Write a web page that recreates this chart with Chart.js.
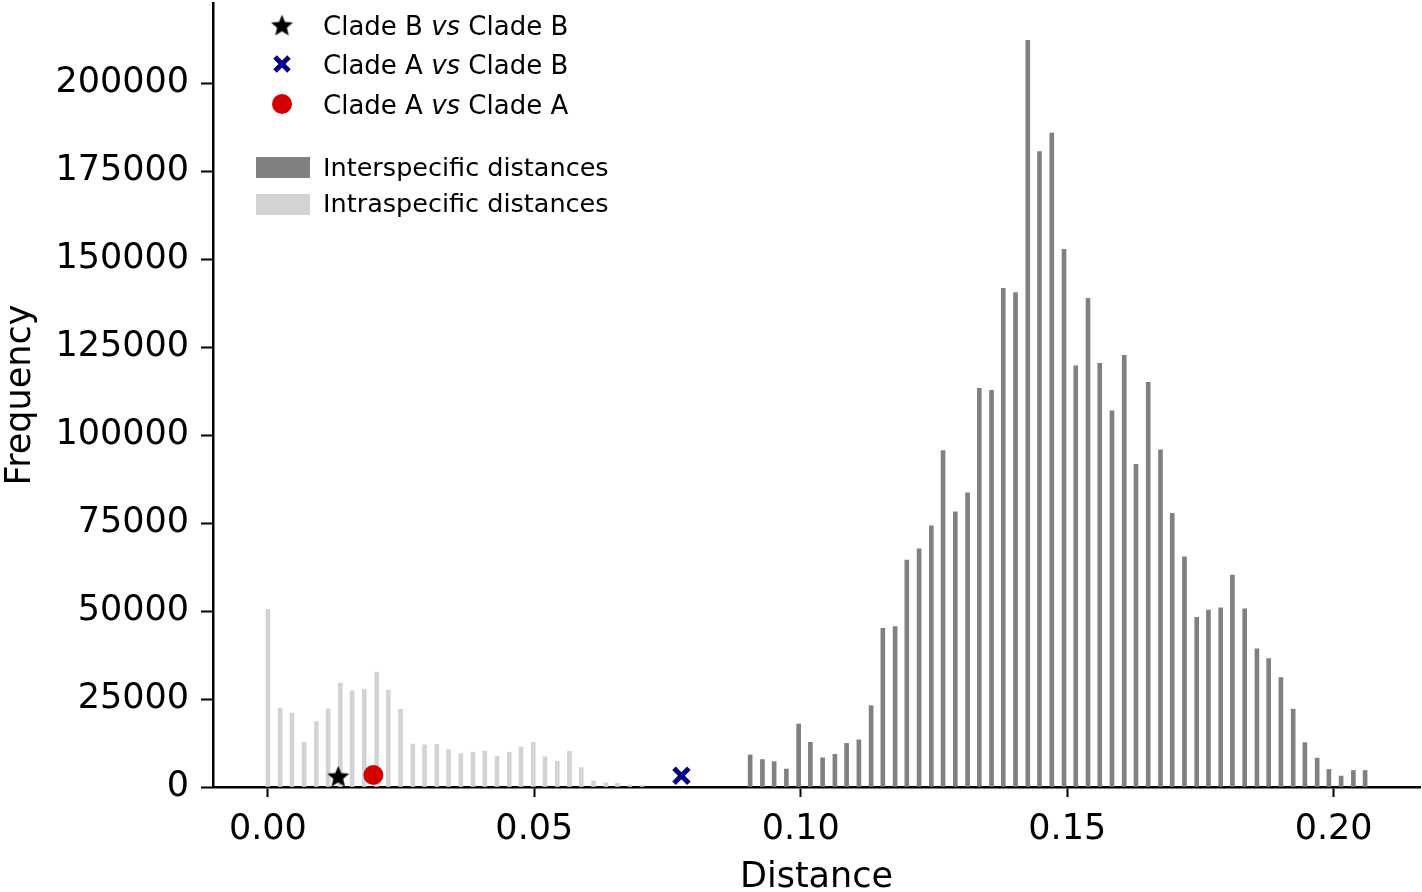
<!DOCTYPE html>
<html>
<head>
<meta charset="utf-8">
<script src="https://cdn.jsdelivr.net/npm/chart.js@4.4.1/dist/chart.umd.min.js"></script>
<style>
  html, body { margin: 0; padding: 0; background: #fff; }
  canvas { display: block; }
</style>
</head>
<body>
<canvas id="histChart" width="1422" height="892"></canvas>
<script>
// Intraspecific distance bins (bar positions) and their counts
const intraDistances = [0.0000, 0.0023, 0.0045, 0.0068, 0.0091, 0.0113, 0.0136, 0.0158,
    0.0181, 0.0204, 0.0226, 0.0249, 0.0272, 0.0294, 0.0317, 0.0339,
    0.0362, 0.0385, 0.0407, 0.0430, 0.0453, 0.0475, 0.0498, 0.0520,
    0.0543, 0.0566, 0.0588, 0.0611, 0.0634, 0.0656, 0.0679, 0.0702];
const intraCounts = [50500, 22400, 21000, 12700, 18600, 22200, 29500, 27300,
    27800, 32600, 27500, 22100, 12200, 12000, 12100, 10600,
    9500, 9900, 10200, 8700, 9900, 11400, 12700, 8600,
    7300, 10100, 5500, 1700, 1200, 1000, 600, 500];

// Interspecific distance bins and their counts
const interDistances = [0.0905, 0.0928, 0.0950, 0.0973, 0.0996, 0.1018, 0.1041, 0.1064,
    0.1086, 0.1109, 0.1132, 0.1154, 0.1177, 0.1199, 0.1222, 0.1245,
    0.1267, 0.1290, 0.1313, 0.1335, 0.1358, 0.1380, 0.1403, 0.1426,
    0.1448, 0.1471, 0.1494, 0.1516, 0.1539, 0.1561, 0.1584, 0.1607,
    0.1629, 0.1652, 0.1675, 0.1697, 0.1720, 0.1743, 0.1765, 0.1788,
    0.1810, 0.1833, 0.1856, 0.1878, 0.1901, 0.1924, 0.1946, 0.1969,
    0.1991, 0.2014, 0.2037, 0.2059];
const interCounts = [9100, 7800, 7200, 5100, 17900, 12700, 8300, 9300,
    12400, 13400, 23100, 45100, 45600, 64500, 67700, 74200,
    95600, 78200, 83600, 113300, 112700, 141700, 140500, 212200,
    180600, 185800, 152800, 119700, 138900, 120400, 106900, 122700,
    91700, 115000, 95800, 77800, 65400, 48200, 50300, 50900,
    60200, 50600, 39300, 36500, 31100, 22100, 12600, 8200,
    5000, 3100, 4700, 4700];

// Clade comparison markers
const cladeBBDistance = [0.0132];
const cladeBBHeight = [3100];
const cladeABDistance = [0.0776];
const cladeABHeight = [3200];
const cladeAADistance = [0.0198];
const cladeAAHeight = [3400];

// Tick values and labels
const xTickValues = [0, 0.05, 0.10, 0.15, 0.20];
const xTickLabels = ['0.00', '0.05', '0.10', '0.15', '0.20'];
const yTickValues = [0, 25000, 50000, 75000, 100000, 125000, 150000, 175000, 200000];
const yTickLabels = ['0', '25000', '50000', '75000', '100000', '125000', '150000', '175000', '200000'];

const FONT = "'DejaVu Sans', Verdana, sans-serif";
const DARK = '#808080';
const LIGHT = '#d3d3d3';
const RED = '#d40000';
const NAVY = '#000080';

function toPoints(xs, ys) {
    return xs.map((x, i) => ({ x: x, y: ys[i] }));
}

// filled 5-point star, used as a point style
function makeStar(size, color) {
    const c = document.createElement('canvas');
    c.width = size;
    c.height = size;
    const g = c.getContext('2d');
    const ro = size / 2;
    const ri = ro * 0.45;
    const cx = size / 2, cy = size / 2 + ro * 0.1;
    g.beginPath();
    for (let i = 0; i < 10; i++) {
        const r = i % 2 ? ri : ro;
        const a = -Math.PI / 2 + i * Math.PI / 5;
        g.lineTo(cx + r * Math.cos(a), cy + r * Math.sin(a));
    }
    g.closePath();
    g.fillStyle = color;
    g.fill();
    return c;
}
const starImg = makeStar(23, '#000');

// Legend drawn by hand (italic "vs" mixed in)
const legendPlugin = {
    id: 'cladeLegend',
    afterDraw(chart) {
        const ctx = chart.ctx;
        ctx.save();
        const symX = 282;
        const textX = 323;

        // star
        ctx.drawImage(starImg, symX - starImg.width / 2, 25 - starImg.height / 2);
        // cross
        ctx.strokeStyle = NAVY;
        ctx.lineWidth = 5;
        ctx.beginPath();
        ctx.moveTo(symX - 7, 57); ctx.lineTo(symX + 7, 71);
        ctx.moveTo(symX + 7, 57); ctx.lineTo(symX - 7, 71);
        ctx.stroke();
        // circle
        ctx.fillStyle = RED;
        ctx.beginPath();
        ctx.arc(symX, 104, 10, 0, Math.PI * 2);
        ctx.fill();
        // patches
        ctx.fillStyle = DARK;
        ctx.fillRect(256, 157, 54, 21);
        ctx.fillStyle = LIGHT;
        ctx.fillRect(256, 194, 54, 21);

        const normal = '26px ' + FONT;
        const italic = 'italic 26px ' + FONT;
        ctx.fillStyle = '#000';
        ctx.textBaseline = 'alphabetic';
        ctx.textAlign = 'left';

        const vsRows = [
            ['Clade B ', 'vs', ' Clade B', 35],
            ['Clade A ', 'vs', ' Clade B', 74],
            ['Clade A ', 'vs', ' Clade A', 113.5]
        ];
        vsRows.forEach(r => {
            let x = textX;
            ctx.font = normal;
            ctx.fillText(r[0], x, r[3]);
            x += ctx.measureText(r[0]).width;
            ctx.font = italic;
            ctx.fillText(r[1], x, r[3]);
            x += ctx.measureText(r[1]).width;
            ctx.font = normal;
            ctx.fillText(r[2], x, r[3]);
        });
        ctx.font = '25.5px ' + FONT;
        ctx.fillText('Interspecific distances', textX, 176);
        ctx.fillText('Intraspecific distances', textX, 212);
        ctx.restore();
    }
};

const ctx = document.getElementById('histChart').getContext('2d');
new Chart(ctx, {
    type: 'bar',
    data: {
        datasets: [
            {
                type: 'scatter',
                label: 'Clade B vs Clade B',
                data: toPoints(cladeBBDistance, cladeBBHeight),
                pointStyle: starImg,
                order: 0
            },
            {
                type: 'scatter',
                label: 'Clade A vs Clade B',
                data: toPoints(cladeABDistance, cladeABHeight),
                pointStyle: 'crossRot',
                pointRadius: 10.5,
                borderColor: NAVY,
                borderWidth: 5,
                order: 0
            },
            {
                type: 'scatter',
                label: 'Clade A vs Clade A',
                data: toPoints(cladeAADistance, cladeAAHeight),
                pointStyle: 'circle',
                pointRadius: 10,
                backgroundColor: RED,
                borderWidth: 0,
                order: 0
            },
            {
                label: 'Interspecific distances',
                data: toPoints(interDistances, interCounts),
                backgroundColor: DARK,
                barThickness: 4,
                grouped: false,
                order: 1
            },
            {
                label: 'Intraspecific distances',
                data: toPoints(intraDistances, intraCounts),
                backgroundColor: LIGHT,
                barThickness: 4,
                grouped: false,
                order: 1
            }
        ]
    },
    options: {
        responsive: false,
        animation: false,
        layout: { autoPadding: false, padding: { top: 3, right: 2, left: 0, bottom: 0 } },
        plugins: {
            legend: { display: false },
            tooltip: { enabled: false }
        },
        scales: {
            x: {
                type: 'linear',
                min: -0.0103,
                max: 0.2162,
                offset: false,
                border: { color: '#000', width: 2.5 },
                grid: { offset: false, drawOnChartArea: false, drawTicks: true, tickLength: 10, tickWidth: 2, tickColor: '#000' },
                ticks: {
                    autoSkip: false,
                    color: '#000',
                    font: { family: FONT, size: 35 },
                    padding: 12,
                    maxRotation: 0,
                    callback: (v, i) => xTickLabels[i]
                },
                afterBuildTicks: s => { s.ticks = xTickValues.map(v => ({ value: v })); },
                title: {
                    display: true,
                    text: 'Distance',
                    color: '#000',
                    font: { family: FONT, size: 35, lineHeight: 1 },
                    padding: { top: 0, bottom: -3 }
                },
                afterFit: s => {
                    s.height = 105;
                    s.paddingLeft = 0;
                    s.paddingRight = 0;
                }
            },
            y: {
                min: 0,
                max: 222800,
                border: { color: '#000', width: 2.5 },
                grid: { drawOnChartArea: false, drawTicks: true, tickLength: 12, tickWidth: 2, tickColor: '#000' },
                ticks: {
                    autoSkip: false,
                    color: '#000',
                    font: { family: FONT, size: 35 },
                    padding: 12,
                    callback: (v, i) => yTickLabels[i]
                },
                afterBuildTicks: s => { s.ticks = yTickValues.map(v => ({ value: v })); },
                title: {
                    display: true,
                    text: 'Frequency',
                    color: '#000',
                    font: { family: FONT, size: 35, lineHeight: 1 },
                    padding: { top: 3, bottom: 0 }
                },
                afterFit: s => {
                    s.width = 213;
                    s.paddingTop = 0;
                    s.paddingBottom = 0;
                }
            }
        }
    },
    plugins: [legendPlugin]
});
</script>
</body>
</html>
